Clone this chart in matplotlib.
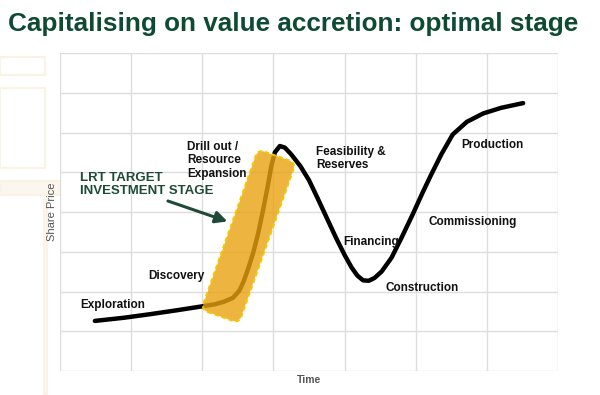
import matplotlib
matplotlib.use("Agg")
import matplotlib.pyplot as plt
from matplotlib.patches import FancyBboxPatch, Rectangle
from matplotlib.transforms import Affine2D, ScaledTranslation

plt.rcParams['font.family'] = ['Liberation Sans', 'DejaVu Sans']

# Share-price curve (time units = grid columns, price units = grid rows)
time_vals = [0.49, 0.9, 1.27, 1.65, 2.01, 2.18, 2.3, 2.43, 2.52, 2.58, 2.65, 2.72, 2.79,
             2.86, 2.92, 2.97, 3.02, 3.09, 3.16, 3.25, 3.38, 3.5, 3.62, 3.75, 3.88,
             4.0, 4.1, 4.18, 4.26, 4.34, 4.42, 4.52, 4.66, 4.8, 4.96, 5.1, 5.22, 5.36, 5.52,
             5.72, 5.95, 6.2, 6.51]
price_vals = [1.26, 1.34, 1.43, 1.53, 1.63, 1.68, 1.74, 1.84, 2.02, 2.25, 2.6, 3.0, 3.5,
              4.1, 4.65, 5.15, 5.5, 5.66, 5.62, 5.45, 5.15, 4.8, 4.35, 3.85, 3.35,
              2.92, 2.6, 2.4, 2.28, 2.27, 2.34, 2.5, 2.85, 3.35, 3.95, 4.5, 4.95, 5.45, 5.95,
              6.27, 6.48, 6.62, 6.74]

title = "Capitalising on value accretion: optimal stage"
stage_labels = ["Exploration", "Discovery", "Drill out /\nResource\nExpansion",
                "Feasibility &\nReserves", "Financing", "Construction",
                "Commissioning", "Production"]
stage_x = [0.29, 1.24, 1.79, 3.6, 3.98, 4.58, 5.18, 5.64]
stage_y = [1.66, 2.38, 5.3, 5.35, 3.24, 2.1, 3.75, 5.68]

fig = plt.figure(figsize=(6, 3.95), dpi=100)
fig.patch.set_facecolor("white")

# faint slide-template decoration on the left
deco = "#FAF2E4"
for (x0, y0, w, h, filled) in [(0, 57, 45, 18, False), (0, 88, 45, 80, False),
                               (0, 181, 60, 14, True), (44, 200, 3, 195, True)]:
    fig.patches.append(Rectangle((x0/600, 1 - (y0 + h)/395), w/600, h/395,
                                 transform=fig.transFigure, fill=filled,
                                 fc="#FCF7EE", ec=deco, lw=1.5, zorder=-5))

ax = fig.add_axes([60/600, 24/395, 498/600, 318/395])
ax.set_xlim(0, 7)
ax.set_ylim(0, 8)
ax.set_xticks(range(8))
ax.set_yticks(range(9))
ax.grid(True, color="#DDDDDD", lw=1)
ax.tick_params(length=0, labelbottom=False, labelleft=False)
for s in ax.spines.values():
    s.set_visible(False)
ax.set_axisbelow(True)

ax.plot(time_vals, price_vals, color="black", lw=3.2, solid_capstyle="round",
        solid_joinstyle="round", zorder=3)

# highlight band (in pixel units, rotated, anchored at a data point)
band = FancyBboxPatch((-20, -85), 40, 170, boxstyle="round,pad=0,rounding_size=7",
                      fc="#E9A210", alpha=0.8, ec="none", zorder=4)
band.set_transform(Affine2D().rotate_deg(-19.5) + ScaledTranslation(2.65, 3.39, ax.transData))
ax.add_patch(band)
band_edge = FancyBboxPatch((-20, -85), 40, 170, boxstyle="round,pad=0,rounding_size=7",
                           fill=False, ec="#F7C600", lw=1.5, ls=(0, (2, 1.5)), zorder=5)
band_edge.set_transform(Affine2D().rotate_deg(-19.5) + ScaledTranslation(2.65, 3.39, ax.transData))
ax.add_patch(band_edge)

for lab, x, y in zip(stage_labels, stage_x, stage_y):
    ax.text(x, y, lab, fontsize=8.5, fontweight="bold", color="#111111",
            ha="left", va="center", linespacing=1.15, zorder=6)

ax.text(0.28, 4.7, "LRT TARGET\nINVESTMENT STAGE", fontsize=9.5, fontweight="bold",
        color="#1F4A38", ha="left", va="center", linespacing=1.1, zorder=6)
ax.annotate("", xy=(2.39, 3.74), xytext=(1.48, 4.3),
            arrowprops=dict(arrowstyle="-|>,head_length=0.7,head_width=0.35",
                            color="#1F4A38", lw=2.2), zorder=6)

ax.set_xlabel("Time", fontsize=7.5, fontweight="bold", color="#555555", labelpad=3)
ax.set_ylabel("Share Price", fontsize=8, color="#555555", labelpad=2)

fig.text(8/600, 1 - 24/395, title, fontsize=18.8, fontweight="bold",
         color="#0F4A35", ha="left", va="center")

fig.savefig("out.png", dpi=100)
